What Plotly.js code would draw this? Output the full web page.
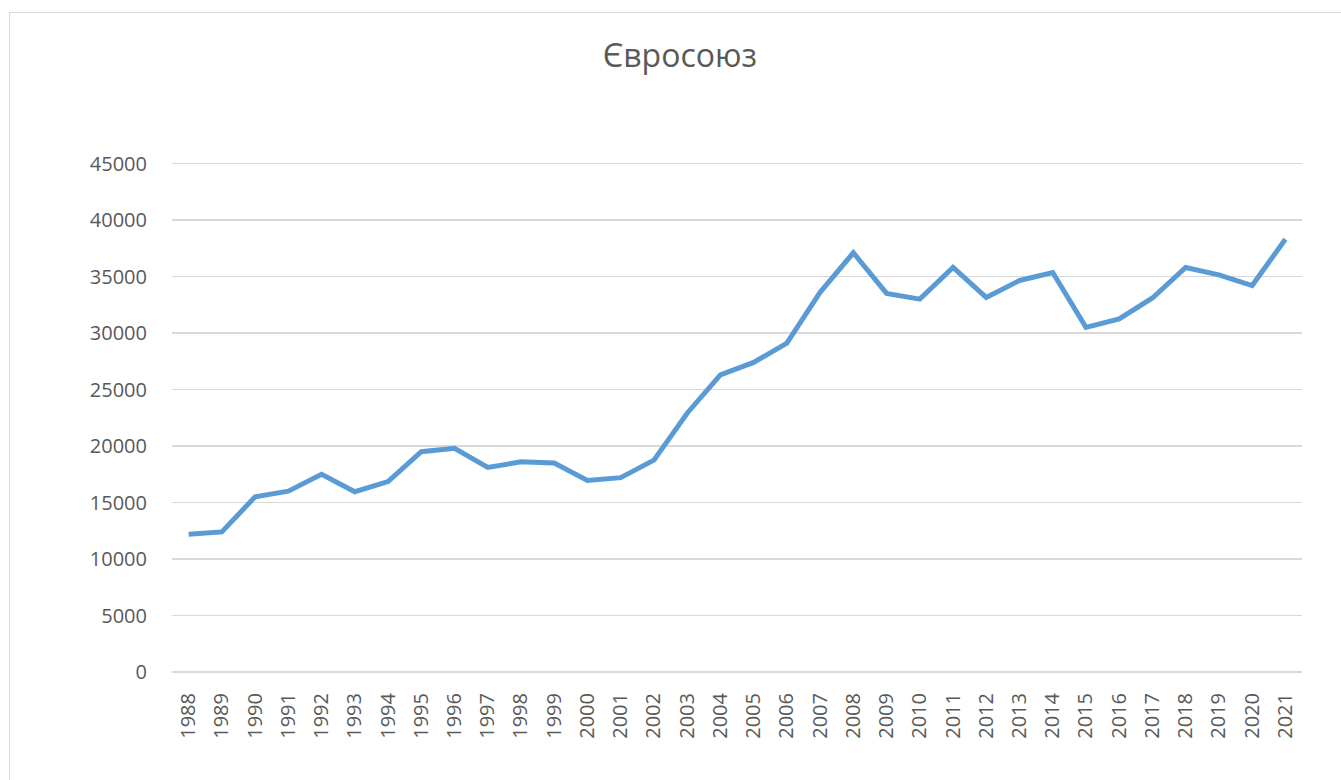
<!DOCTYPE html>
<html>
<head>
<meta charset="utf-8">
<script src="https://cdn.plot.ly/plotly-3.0.1.min.js"></script>
<style>
  html, body { margin: 0; padding: 0; background: #fff; }
  #chart { position: absolute; left: 0; top: 0; width: 1341px; height: 780px; }
  #frame { position: absolute; left: 9px; top: 12px; width: 1340px; height: 780px;
           border-left: 1.5px solid #d9d9d9; border-top: 1.5px solid #d9d9d9; pointer-events: none; }
</style>
</head>
<body>
<div id="chart"></div>
<div id="frame"></div>
<script>
const years = ["1988","1989","1990","1991","1992","1993","1994","1995","1996","1997","1998","1999","2000","2001","2002","2003","2004","2005","2006","2007","2008","2009","2010","2011","2012","2013","2014","2015","2016","2017","2018","2019","2020","2021"];
const values = [12200,12400,15500,16000,17500,15950,16850,19500,19800,18100,18600,18500,16950,17200,18750,22900,26300,27400,29100,33600,37100,33500,33000,35800,33150,34650,35350,30500,31250,33100,35800,35150,34200,38300];
const titleText = "Євросоюз";
const yTicks = [0,5000,10000,15000,20000,25000,30000,35000,40000,45000];

const FONT = "Open Sans, Noto Sans, sans-serif";
Plotly.newPlot("chart", [{
  type: "scatter", mode: "lines", x: years, y: values,
  line: { color: "#5B9BD5", width: 5, shape: "linear" },
  hoverinfo: "x+y"
}], {
  width: 1341, height: 780,
  margin: { l: 172, r: 39, t: 161, b: 108, pad: 0 },
  paper_bgcolor: "#ffffff", plot_bgcolor: "#ffffff",
  showlegend: false,
  title: { text: titleText, font: { family: FONT, size: 32, color: "#595959" },
           xref: "container", x: 0.507, xanchor: "center",
           yref: "container", y: 1 - 56/780, yanchor: "middle" },
  xaxis: {
    type: "category", range: [-0.5, 33.5], tickangle: -90,
    showgrid: false, zeroline: false, showline: false,
    ticks: "outside", ticklen: 12, tickcolor: "rgba(0,0,0,0)",
    tickfont: { family: FONT, size: 20, color: "#595959" }
  },
  yaxis: {
    range: [0, 45221], tickvals: yTicks, ticktext: yTicks.map(String),
    showgrid: true, gridcolor: "#d9d9d9", gridwidth: 1.3,
    zeroline: true, zerolinecolor: "#d9d9d9", zerolinewidth: 1.3,
    showline: false,
    ticks: "outside", ticklen: 20, tickcolor: "rgba(0,0,0,0)",
    tickfont: { family: FONT, size: 20, color: "#595959" }
  }
}, { displayModeBar: false, staticPlot: true });
</script>
</body>
</html>
